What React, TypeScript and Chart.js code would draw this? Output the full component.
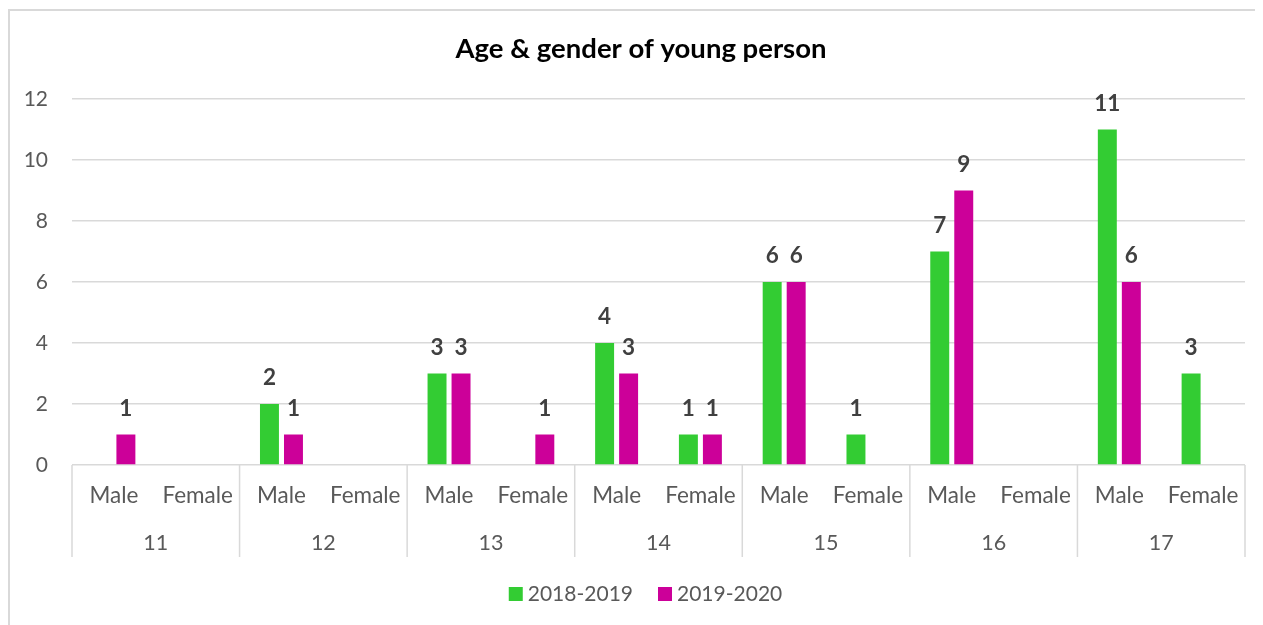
import React, { useEffect, useRef } from 'react';
import { Chart, registerables } from 'chart.js';

Chart.register(...registerables);

const titleText = 'Age & gender of young person';
const ages = ['11', '12', '13', '14', '15', '16', '17'];
const genders = ['Male', 'Female'];
const categories = ages.flatMap((a) => genders.map((g) => `${a} ${g}`));
const series2018: (number | null)[] = [null, null, 2, null, 3, null, 4, 1, 6, 1, 7, null, 11, 3];
const series2019: (number | null)[] = [1, null, 1, null, 3, 1, 3, 1, 6, null, 9, null, 6, null];
const yTicks = [0, 2, 4, 6, 8, 10, 12];
const seriesNames = ['2018-2019', '2019-2020'];
const seriesColors = ['#33CC33', '#CC0099'];

const FONT = 'Lato, "Open Sans", sans-serif';
const AXIS_COLOR = '#595959';
const GRID_COLOR = '#d9d9d9';

const overlay = {
  id: 'overlay',
  afterDraw(chart: any) {
    const { ctx, chartArea, scales } = chart;
    const x = scales.x;
    const n = categories.length;
    const catW = (chartArea.right - chartArea.left) / n;
    ctx.save();

    // Title
    ctx.fillStyle = '#000000';
    ctx.font = `bold 27.5px ${FONT}`;
    ctx.textAlign = 'center';
    ctx.textBaseline = 'middle';
    ctx.fillText(titleText, chart.width / 2, 38.5);

    // Category labels (first level)
    ctx.font = `22.5px ${FONT}`;
    ctx.fillStyle = AXIS_COLOR;
    categories.forEach((_, i) => {
      ctx.fillText(genders[i % genders.length], x.getPixelForValue(i), chartArea.bottom + 31);
    });
    // Group labels (second level)
    ctx.font = `21.5px ${FONT}`;
    ages.forEach((a, g) => {
      const cx = (x.getPixelForValue(2 * g) + x.getPixelForValue(2 * g + 1)) / 2;
      ctx.fillText(a, cx, chartArea.bottom + 78);
    });

    // Group separators
    ctx.strokeStyle = GRID_COLOR;
    ctx.lineWidth = 1.5;
    for (let g = 0; g <= ages.length; g++) {
      const px = g < ages.length ? x.getPixelForValue(2 * g) - catW / 2 : x.getPixelForValue(n - 1) + catW / 2;
      ctx.beginPath();
      ctx.moveTo(px, chartArea.bottom);
      ctx.lineTo(px, chartArea.bottom + 92);
      ctx.stroke();
    }

    // Data labels
    ctx.font = `bold 22.5px ${FONT}`;
    ctx.fillStyle = '#404040';
    chart.data.datasets.forEach((ds: any, di: number) => {
      const meta = chart.getDatasetMeta(di);
      meta.data.forEach((bar: any, i: number) => {
        const v = ds.data[i];
        if (v == null) return;
        ctx.fillText(String(v), bar.x, bar.y - 26);
      });
    });

    // Legend
    ctx.font = `21px ${FONT}`;
    const box = 14;
    const gapText = 5;
    const gapItem = 25;
    const widths = seriesNames.map((s) => ctx.measureText(s).width);
    const total = widths.reduce((s, w) => s + box + gapText + w, 0) + gapItem * (seriesNames.length - 1);
    let lx = 635.5 - total / 2;
    const ly = 583;
    ctx.textAlign = 'left';
    seriesNames.forEach((s, i) => {
      ctx.fillStyle = seriesColors[i];
      ctx.fillRect(lx, ly - box / 2, box, box);
      lx += box + gapText;
      ctx.fillStyle = AXIS_COLOR;
      ctx.fillText(s, lx, ly);
      lx += widths[i] + gapItem;
    });

    ctx.restore();
  },
};

export default function App() {
  const ref = useRef<HTMLCanvasElement | null>(null);

  useEffect(() => {
    document.documentElement.style.overflow = 'hidden';
    document.body.style.overflow = 'hidden';
    if (!ref.current) return;
    const chart = new Chart(ref.current, {
      type: 'bar',
      data: {
        labels: categories,
        datasets: [
          {
            label: seriesNames[0],
            data: series2018,
            backgroundColor: seriesColors[0],
            categoryPercentage: 0.573,
            barPercentage: 0.79,
          },
          {
            label: seriesNames[1],
            data: series2019,
            backgroundColor: seriesColors[1],
            categoryPercentage: 0.573,
            barPercentage: 0.79,
          },
        ],
      },
      options: {
        responsive: false,
        animation: false,
        layout: { padding: { left: 0, right: 27, top: 88, bottom: 176 } },
        plugins: {
          legend: { display: false },
          title: { display: false },
          tooltip: { enabled: false },
        },
        scales: {
          x: {
            display: false,
            grid: { display: false },
          },
          y: {
            min: 0,
            max: 12,
            afterBuildTicks: (scale: any) => {
              scale.ticks = yTicks.map((v) => ({ value: v }));
            },
            afterFit: (scale: any) => {
              scale.width = 62;
            },
            border: { display: false },
            grid: { color: GRID_COLOR, lineWidth: 1.5, drawTicks: false },
            ticks: {
              padding: 24,
              color: AXIS_COLOR,
              font: { family: FONT, size: 21 },
            },
          },
        },
      },
      plugins: [overlay],
    });
    return () => chart.destroy();
  }, []);

  return (
    <div
      style={{
        position: 'relative',
        top: 1,
        width: 1262,
        height: 630,
        border: `2px solid ${GRID_COLOR}`,
        background: '#ffffff',
      }}
    >
      <canvas ref={ref} width={1262} height={630} style={{ display: 'block', width: 1262, height: 630 }} />
    </div>
  );
}
